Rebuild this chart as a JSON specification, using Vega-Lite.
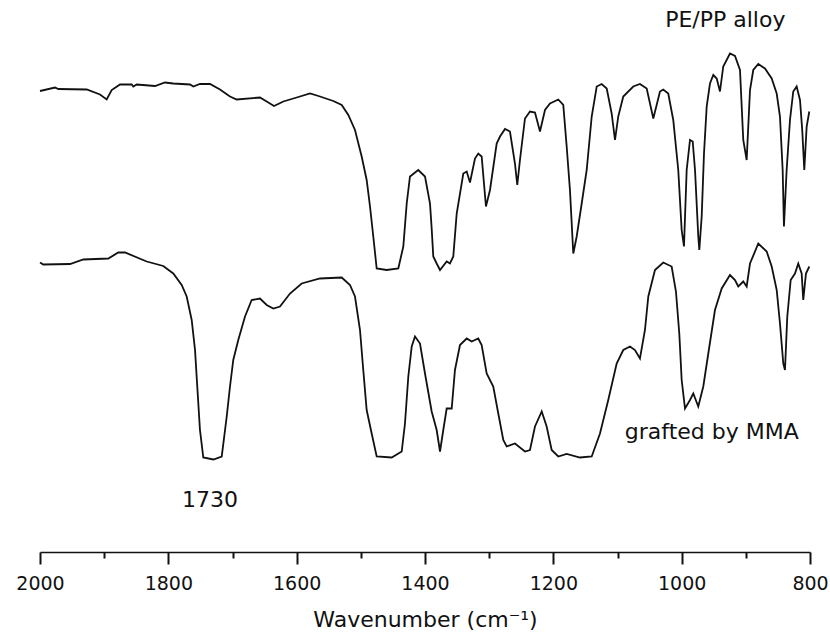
{
  "$schema": "https://vega.github.io/schema/vega-lite/v6.json",
  "width": 770,
  "height": 550,
  "autosize": {"type": "none"},
  "padding": {"left": 40, "top": 2, "right": 20, "bottom": 88},
  "background": "white",
  "config": {"view": {"stroke": null}, "font": "DejaVu Sans"},
  "datasets": {
    "spectra": [
      {"s":"PE/PP","wn":2000,"t":92.2},{"s":"PE/PP","wn":1976.6,"t":92.9},{"s":"PE/PP","wn":1971.5,"t":92.6},{"s":"PE/PP","wn":1927.2,"t":92.5},{"s":"PE/PP","wn":1906.5,"t":91.5},{"s":"PE/PP","wn":1896.1,"t":90.5},{"s":"PE/PP","wn":1888.3,"t":92.4},{"s":"PE/PP","wn":1875.3,"t":93.5},{"s":"PE/PP","wn":1857.1,"t":93.5},{"s":"PE/PP","wn":1854.6,"t":93.1},{"s":"PE/PP","wn":1849.3,"t":93.5},{"s":"PE/PP","wn":1820.8,"t":93.2},{"s":"PE/PP","wn":1805.2,"t":93.9},{"s":"PE/PP","wn":1792.3,"t":93.7},{"s":"PE/PP","wn":1766.2,"t":93.5},{"s":"PE/PP","wn":1761.1,"t":93.1},{"s":"PE/PP","wn":1750.7,"t":93.6},{"s":"PE/PP","wn":1735.1,"t":93.6},{"s":"PE/PP","wn":1719.5,"t":92.5},{"s":"PE/PP","wn":1703.9,"t":91.1},{"s":"PE/PP","wn":1693.5,"t":90.5},{"s":"PE/PP","wn":1657.2,"t":90.9},{"s":"PE/PP","wn":1646.7,"t":90.1},{"s":"PE/PP","wn":1635.3,"t":89.2},{"s":"PE/PP","wn":1620.8,"t":90.1},{"s":"PE/PP","wn":1600,"t":90.9},{"s":"PE/PP","wn":1579.2,"t":91.7},{"s":"PE/PP","wn":1563.6,"t":91.1},{"s":"PE/PP","wn":1542.9,"t":90.2},{"s":"PE/PP","wn":1529.8,"t":89.4},{"s":"PE/PP","wn":1519.5,"t":87.4},{"s":"PE/PP","wn":1509.1,"t":84.4},{"s":"PE/PP","wn":1498.7,"t":79.1},{"s":"PE/PP","wn":1490.9,"t":74.4},{"s":"PE/PP","wn":1485.7,"t":69.1},{"s":"PE/PP","wn":1480.6,"t":63.1},{"s":"PE/PP","wn":1475.3,"t":56.7},{"s":"PE/PP","wn":1459.7,"t":56.4},{"s":"PE/PP","wn":1441.6,"t":56.7},{"s":"PE/PP","wn":1433.8,"t":61.1},{"s":"PE/PP","wn":1428.5,"t":69.7},{"s":"PE/PP","wn":1423.4,"t":75.1},{"s":"PE/PP","wn":1410.5,"t":76.4},{"s":"PE/PP","wn":1400,"t":75.1},{"s":"PE/PP","wn":1392.2,"t":69.7},{"s":"PE/PP","wn":1389.6,"t":64.7},{"s":"PE/PP","wn":1387.1,"t":59.1},{"s":"PE/PP","wn":1381.8,"t":57.7},{"s":"PE/PP","wn":1376.6,"t":56.4},{"s":"PE/PP","wn":1366.2,"t":58.1},{"s":"PE/PP","wn":1361.1,"t":57.7},{"s":"PE/PP","wn":1355.9,"t":59.1},{"s":"PE/PP","wn":1350.6,"t":67.7},{"s":"PE/PP","wn":1340.3,"t":75.7},{"s":"PE/PP","wn":1335,"t":76.1},{"s":"PE/PP","wn":1329.9,"t":73.9},{"s":"PE/PP","wn":1322.1,"t":78.7},{"s":"PE/PP","wn":1317,"t":79.7},{"s":"PE/PP","wn":1311.7,"t":79.1},{"s":"PE/PP","wn":1305,"t":69.1},{"s":"PE/PP","wn":1298.7,"t":72.4},{"s":"PE/PP","wn":1288.3,"t":81.7},{"s":"PE/PP","wn":1283.1,"t":83.1},{"s":"PE/PP","wn":1275.3,"t":84.6},{"s":"PE/PP","wn":1267.6,"t":84.1},{"s":"PE/PP","wn":1259.8,"t":77.7},{"s":"PE/PP","wn":1256.2,"t":73.4},{"s":"PE/PP","wn":1252,"t":78.4},{"s":"PE/PP","wn":1244.2,"t":86.7},{"s":"PE/PP","wn":1236.4,"t":88.1},{"s":"PE/PP","wn":1228.6,"t":87.9},{"s":"PE/PP","wn":1220.8,"t":84.1},{"s":"PE/PP","wn":1213,"t":88.4},{"s":"PE/PP","wn":1205.2,"t":89.7},{"s":"PE/PP","wn":1192.3,"t":90.5},{"s":"PE/PP","wn":1184.5,"t":89.4},{"s":"PE/PP","wn":1179.2,"t":81.1},{"s":"PE/PP","wn":1174.1,"t":72.4},{"s":"PE/PP","wn":1168.9,"t":59.7},{"s":"PE/PP","wn":1163.6,"t":63.1},{"s":"PE/PP","wn":1155.8,"t":69.7},{"s":"PE/PP","wn":1148,"t":76.4},{"s":"PE/PP","wn":1140.2,"t":87.1},{"s":"PE/PP","wn":1132.4,"t":93.1},{"s":"PE/PP","wn":1124.6,"t":93.6},{"s":"PE/PP","wn":1116.8,"t":92.7},{"s":"PE/PP","wn":1109.1,"t":87.7},{"s":"PE/PP","wn":1103.9,"t":82.4},{"s":"PE/PP","wn":1098.8,"t":87.1},{"s":"PE/PP","wn":1091,"t":91.1},{"s":"PE/PP","wn":1075.4,"t":93.1},{"s":"PE/PP","wn":1065,"t":93.6},{"s":"PE/PP","wn":1054.5,"t":92.7},{"s":"PE/PP","wn":1044.2,"t":86.7},{"s":"PE/PP","wn":1033.8,"t":92.1},{"s":"PE/PP","wn":1028.7,"t":92.5},{"s":"PE/PP","wn":1020.9,"t":91.7},{"s":"PE/PP","wn":1013.1,"t":86.4},{"s":"PE/PP","wn":1005.3,"t":76.4},{"s":"PE/PP","wn":1000,"t":64.4},{"s":"PE/PP","wn":996.4,"t":61.1},{"s":"PE/PP","wn":992.2,"t":76.4},{"s":"PE/PP","wn":987,"t":82.4},{"s":"PE/PP","wn":982.8,"t":82.1},{"s":"PE/PP","wn":979.2,"t":76.4},{"s":"PE/PP","wn":974.1,"t":63.1},{"s":"PE/PP","wn":972.5,"t":60.4},{"s":"PE/PP","wn":968.8,"t":67.1},{"s":"PE/PP","wn":965.2,"t":79.7},{"s":"PE/PP","wn":961,"t":89.1},{"s":"PE/PP","wn":955.9,"t":93.7},{"s":"PE/PP","wn":950.7,"t":95.4},{"s":"PE/PP","wn":945.4,"t":94.7},{"s":"PE/PP","wn":940.3,"t":92.1},{"s":"PE/PP","wn":935.2,"t":97.1},{"s":"PE/PP","wn":924.7,"t":99.7},{"s":"PE/PP","wn":916.9,"t":99.2},{"s":"PE/PP","wn":909.1,"t":96.4},{"s":"PE/PP","wn":904,"t":82.4},{"s":"PE/PP","wn":898.7,"t":78.4},{"s":"PE/PP","wn":893.5,"t":92.4},{"s":"PE/PP","wn":888.4,"t":96.4},{"s":"PE/PP","wn":880.6,"t":97.6},{"s":"PE/PP","wn":870.2,"t":96.7},{"s":"PE/PP","wn":859.7,"t":94.7},{"s":"PE/PP","wn":851.9,"t":91.7},{"s":"PE/PP","wn":846.8,"t":87.1},{"s":"PE/PP","wn":842.6,"t":76.4},{"s":"PE/PP","wn":840.6,"t":65.1},{"s":"PE/PP","wn":836.4,"t":76.4},{"s":"PE/PP","wn":831.2,"t":86.4},{"s":"PE/PP","wn":826.1,"t":92.1},{"s":"PE/PP","wn":820.8,"t":93.1},{"s":"PE/PP","wn":815.6,"t":90.4},{"s":"PE/PP","wn":812.1,"t":84.4},{"s":"PE/PP","wn":808.9,"t":76.4},{"s":"PE/PP","wn":805.2,"t":85.1},{"s":"PE/PP","wn":801.1,"t":88.1},
      {"s":"MMA","wn":2000,"t":57.9},{"s":"MMA","wn":1994.9,"t":57.5},{"s":"MMA","wn":1953.2,"t":57.6},{"s":"MMA","wn":1932.5,"t":58.5},{"s":"MMA","wn":1893.6,"t":58.7},{"s":"MMA","wn":1878,"t":59.9},{"s":"MMA","wn":1867.5,"t":59.9},{"s":"MMA","wn":1833.7,"t":58.1},{"s":"MMA","wn":1807.9,"t":57.2},{"s":"MMA","wn":1792.3,"t":55.7},{"s":"MMA","wn":1779.2,"t":53.4},{"s":"MMA","wn":1771.4,"t":51.1},{"s":"MMA","wn":1763.6,"t":46.4},{"s":"MMA","wn":1758.4,"t":40.4},{"s":"MMA","wn":1754.9,"t":33.1},{"s":"MMA","wn":1750.7,"t":24.4},{"s":"MMA","wn":1745.5,"t":18.9},{"s":"MMA","wn":1729.9,"t":18.5},{"s":"MMA","wn":1716.8,"t":19.1},{"s":"MMA","wn":1709,"t":27.1},{"s":"MMA","wn":1703.9,"t":33.1},{"s":"MMA","wn":1698.8,"t":38.4},{"s":"MMA","wn":1691,"t":42.4},{"s":"MMA","wn":1680.5,"t":47.1},{"s":"MMA","wn":1670.1,"t":50.4},{"s":"MMA","wn":1657.2,"t":50.7},{"s":"MMA","wn":1646.7,"t":49.4},{"s":"MMA","wn":1636.4,"t":48.7},{"s":"MMA","wn":1626,"t":49.1},{"s":"MMA","wn":1610.4,"t":51.7},{"s":"MMA","wn":1592.2,"t":53.7},{"s":"MMA","wn":1563.6,"t":54.7},{"s":"MMA","wn":1529.8,"t":54.9},{"s":"MMA","wn":1516.9,"t":53.4},{"s":"MMA","wn":1509.1,"t":51.1},{"s":"MMA","wn":1501.3,"t":44.4},{"s":"MMA","wn":1496.2,"t":36.4},{"s":"MMA","wn":1490.9,"t":28.4},{"s":"MMA","wn":1483.1,"t":23.7},{"s":"MMA","wn":1475.3,"t":19.1},{"s":"MMA","wn":1451.9,"t":18.9},{"s":"MMA","wn":1436.3,"t":20.1},{"s":"MMA","wn":1431.2,"t":25.7},{"s":"MMA","wn":1426,"t":35.1},{"s":"MMA","wn":1420.7,"t":41.1},{"s":"MMA","wn":1415.6,"t":43.1},{"s":"MMA","wn":1407.8,"t":41.7},{"s":"MMA","wn":1400,"t":35.7},{"s":"MMA","wn":1389.6,"t":28.1},{"s":"MMA","wn":1381.8,"t":24.4},{"s":"MMA","wn":1376.6,"t":20.1},{"s":"MMA","wn":1371.5,"t":24.4},{"s":"MMA","wn":1366.2,"t":28.7},{"s":"MMA","wn":1358.4,"t":28.7},{"s":"MMA","wn":1353.3,"t":36.4},{"s":"MMA","wn":1345.5,"t":41.4},{"s":"MMA","wn":1335,"t":42.7},{"s":"MMA","wn":1327.2,"t":42.1},{"s":"MMA","wn":1317,"t":42.7},{"s":"MMA","wn":1311.7,"t":41.4},{"s":"MMA","wn":1303.9,"t":35.7},{"s":"MMA","wn":1293.6,"t":33.1},{"s":"MMA","wn":1285.8,"t":27.7},{"s":"MMA","wn":1278,"t":22.4},{"s":"MMA","wn":1272.7,"t":21.1},{"s":"MMA","wn":1259.8,"t":21.7},{"s":"MMA","wn":1244.2,"t":20.1},{"s":"MMA","wn":1236.4,"t":20.4},{"s":"MMA","wn":1228.6,"t":25.1},{"s":"MMA","wn":1218.1,"t":28.1},{"s":"MMA","wn":1210.4,"t":25.1},{"s":"MMA","wn":1202.6,"t":20.4},{"s":"MMA","wn":1192.3,"t":19.1},{"s":"MMA","wn":1179.2,"t":19.6},{"s":"MMA","wn":1158.5,"t":18.9},{"s":"MMA","wn":1140.2,"t":19.1},{"s":"MMA","wn":1127.3,"t":23.7},{"s":"MMA","wn":1114.4,"t":30.4},{"s":"MMA","wn":1101.3,"t":37.7},{"s":"MMA","wn":1091,"t":40.4},{"s":"MMA","wn":1080.5,"t":41.1},{"s":"MMA","wn":1072.8,"t":40.4},{"s":"MMA","wn":1065,"t":38.7},{"s":"MMA","wn":1057.2,"t":44.4},{"s":"MMA","wn":1052,"t":51.1},{"s":"MMA","wn":1041.6,"t":56.4},{"s":"MMA","wn":1028.7,"t":57.9},{"s":"MMA","wn":1015.6,"t":57.1},{"s":"MMA","wn":1008.9,"t":52.1},{"s":"MMA","wn":1003.7,"t":43.7},{"s":"MMA","wn":1000,"t":34.4},{"s":"MMA","wn":994.8,"t":28.7},{"s":"MMA","wn":987,"t":30.4},{"s":"MMA","wn":981.9,"t":31.7},{"s":"MMA","wn":974.1,"t":29.1},{"s":"MMA","wn":966.3,"t":33.1},{"s":"MMA","wn":958.5,"t":39.7},{"s":"MMA","wn":948.1,"t":48.4},{"s":"MMA","wn":937.6,"t":52.7},{"s":"MMA","wn":924.7,"t":55.4},{"s":"MMA","wn":916.9,"t":54.4},{"s":"MMA","wn":911.8,"t":53.1},{"s":"MMA","wn":904,"t":54.1},{"s":"MMA","wn":898.7,"t":53.1},{"s":"MMA","wn":893.5,"t":57.7},{"s":"MMA","wn":880.6,"t":61.7},{"s":"MMA","wn":867.5,"t":60.1},{"s":"MMA","wn":859.7,"t":57.1},{"s":"MMA","wn":851.9,"t":52.4},{"s":"MMA","wn":846.8,"t":45.7},{"s":"MMA","wn":841.6,"t":37.7},{"s":"MMA","wn":839,"t":36.4},{"s":"MMA","wn":835.4,"t":47.1},{"s":"MMA","wn":830.1,"t":54.4},{"s":"MMA","wn":823.4,"t":55.7},{"s":"MMA","wn":818.3,"t":57.7},{"s":"MMA","wn":813,"t":55.7},{"s":"MMA","wn":810.5,"t":50.4},{"s":"MMA","wn":806.3,"t":55.7},{"s":"MMA","wn":801.1,"t":57.1}
    ],
    "labels": [
      {"label": "PE/PP alloy", "wn": 932, "t": 106.4},
      {"label": "grafted by MMA", "wn": 953, "t": 24},
      {"label": "1730", "wn": 1735, "t": 10.4}
    ]
  },
  "layer": [
    {
      "data": {"name": "spectra"},
      "mark": {"type": "line", "color": "#111111", "strokeWidth": 1.8, "interpolate": "linear"},
      "encoding": {
        "x": {
          "field": "wn", "type": "quantitative",
          "scale": {"domain": [2000, 800], "nice": false, "zero": false},
          "axis": {
            "title": "Wavenumber (cm⁻¹)",
            "values": [2000, 1900, 1800, 1700, 1600, 1500, 1400, 1300, 1200, 1100, 1000, 900, 800],
            "format": "d",
            "labelExpr": "datum.value % 200 === 0 ? datum.label : ''",
            "grid": false,
            "domainColor": "#111111",
            "domainWidth": 1.6,
            "tickColor": "#111111",
            "tickWidth": 2,
            "tickSize": {"condition": {"test": "datum.value % 200 === 0", "value": 12}, "value": 6},
            "labelFont": "DejaVu Sans",
            "labelFontSize": 19,
            "labelColor": "#111111",
            "labelPadding": 10,
            "labelFlush": false,
            "labelOverlap": false,
            "titleFont": "DejaVu Sans",
            "titleFontSize": 22,
            "titleFontWeight": "normal",
            "titleColor": "#111111",
            "titlePadding": 16
          }
        },
        "y": {
          "field": "t", "type": "quantitative",
          "scale": {"domain": [0, 110], "nice": false, "zero": false},
          "axis": null
        },
        "detail": {"field": "s", "type": "nominal"}
      }
    },
    {
      "data": {"name": "labels"},
      "mark": {"type": "text", "font": "DejaVu Sans", "fontSize": 22, "color": "#111111", "align": "center", "baseline": "middle"},
      "encoding": {
        "x": {"field": "wn", "type": "quantitative"},
        "y": {"field": "t", "type": "quantitative"},
        "text": {"field": "label", "type": "nominal"}
      }
    }
  ]
}
